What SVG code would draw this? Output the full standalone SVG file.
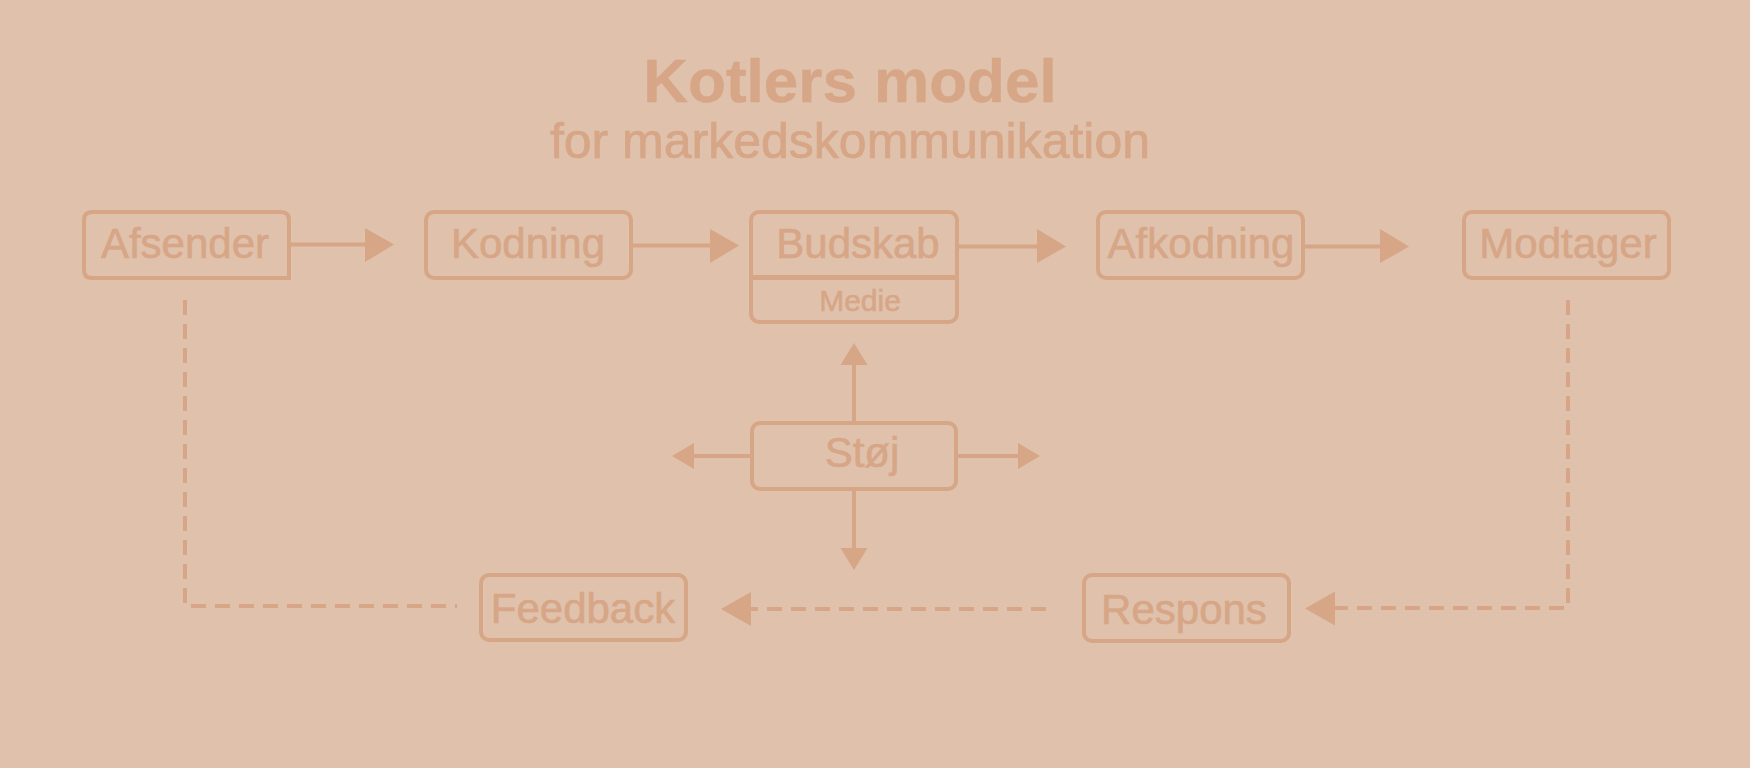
<svg xmlns="http://www.w3.org/2000/svg" width="1750" height="768" viewBox="0 0 1750 768">
<style>
.box{fill:none;stroke:#D6A686;stroke-width:4}
.t{font-family:"Liberation Sans",Arial,sans-serif;font-size:42px;fill:#D6A686;stroke:#D6A686;stroke-width:0.6;text-anchor:middle}
.ln{stroke:#D6A686;stroke-width:4;fill:none}
.dash{stroke:#D6A686;stroke-width:4;fill:none;stroke-dasharray:15 9}
.head{fill:#D6A686}
</style>
<rect width="1750" height="768" fill="#E0C1AC"/>
<g id="title">
<text x="850" y="102" class="t" style="font-size:62px;font-weight:bold;stroke-width:0.4">Kotlers model</text>
<text x="850" y="158" class="t" style="font-size:50px;stroke-width:0.7">for markedskommunikation</text>
</g>
<g id="afsender">
<path class="box" d="M92,212 H281 Q289,212 289,220 V278 H92 Q84,278 84,270 V220 Q84,212 92,212 Z"/>
<text x="185" y="258" class="t">Afsender</text>
</g>
<g id="kodning">
<rect class="box" x="426" y="212" width="205" height="66" rx="8"/>
<text x="528" y="258" class="t">Kodning</text>
</g>
<g id="budskab">
<rect class="box" x="751" y="212" width="206" height="110" rx="8"/>
<line x1="751" y1="277.5" x2="957" y2="277.5" stroke="#D6A686" stroke-width="5"/>
<text x="858" y="258" class="t">Budskab</text>
<text x="860" y="311" class="t" style="font-size:30px;stroke-width:0.5">Medie</text>
</g>
<g id="afkodning">
<rect class="box" x="1098" y="212" width="205" height="66" rx="8"/>
<text x="1201" y="258" class="t">Afkodning</text>
</g>
<g id="modtager">
<rect class="box" x="1464" y="212" width="205" height="66" rx="8"/>
<text x="1568" y="258" class="t">Modtager</text>
</g>
<g id="stoej">
<rect class="box" x="752" y="423" width="204" height="66" rx="8"/>
<text x="862" y="467" class="t">Støj</text>
</g>
<g id="feedback">
<rect class="box" x="481" y="575" width="205" height="65" rx="8"/>
<text x="583" y="623" class="t">Feedback</text>
</g>
<g id="respons">
<rect class="box" x="1084" y="575" width="205" height="66" rx="8"/>
<text x="1184" y="624" class="t">Respons</text>
</g>
<g id="connectors">
<line class="ln" x1="291" y1="244.5" x2="366" y2="244.5"/>
<polygon class="head" points="365,228 394,244.5 365,262"/>
<line class="ln" x1="633" y1="245.5" x2="711" y2="245.5"/>
<polygon class="head" points="710,229 739,245.5 710,263"/>
<line class="ln" x1="959" y1="246.5" x2="1038" y2="246.5"/>
<polygon class="head" points="1037,229 1066,246.5 1037,263"/>
<line class="ln" x1="1305" y1="246.5" x2="1381" y2="246.5"/>
<polygon class="head" points="1380,229 1409,246.5 1380,263"/>
<line class="ln" x1="854" y1="421" x2="854" y2="364"/>
<polygon class="head" points="840.5,365 854,343 867.5,365"/>
<line class="ln" x1="750" y1="456" x2="693" y2="456"/>
<polygon class="head" points="694,443 672,456 694,469"/>
<line class="ln" x1="958" y1="456" x2="1019" y2="456"/>
<polygon class="head" points="1018,443 1040,456 1018,469"/>
<line class="ln" x1="854" y1="491" x2="854" y2="549"/>
<polygon class="head" points="840.5,548 854,570 867.5,548"/>
<path class="dash" d="M185,300 V606 H457"/>
<path class="dash" d="M1046,609 H750"/>
<polygon class="head" points="751,592 721,609 751,626"/>
<path class="dash" d="M1568,300 V608 H1335"/>
<polygon class="head" points="1335,591.5 1305,608.5 1335,625.5"/>
</g>
</svg>
